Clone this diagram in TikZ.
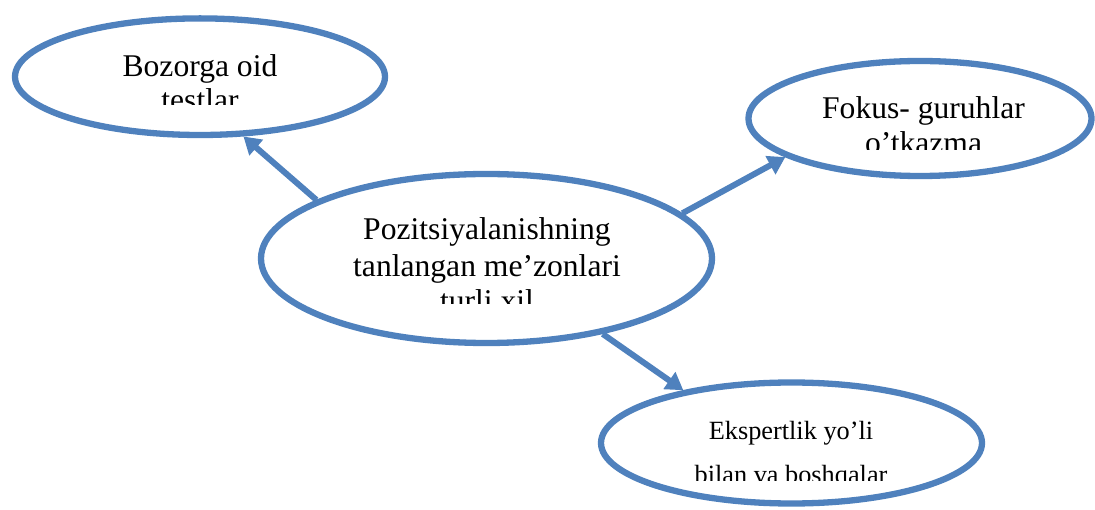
\documentclass[tikz,border=0pt]{standalone}
\usepackage{fontspec}
\setmainfont{Liberation Serif}
\usetikzlibrary{shapes.geometric,arrows.meta}
\definecolor{ovalblue}{HTML}{4F81BD}
\begin{document}
\begin{tikzpicture}[x=1pt,y=1pt,
  oval/.style={ellipse, draw=ovalblue, line width=6.3pt, inner sep=0pt, fill=white},
  link/.style={draw=ovalblue, line width=6pt, -{Triangle[length=17pt,width=20pt]}},
  bigtext/.style={anchor=base, inner sep=0pt, font=\fontsize{31.6}{36}\selectfont},
  smalltext/.style={anchor=base, inner sep=0pt, font=\fontsize{26.3}{30}\selectfont}]
\useasboundingbox (0,0) rectangle (1095,509);

% the four ovals
\node[oval, minimum width=370pt, minimum height=116.6pt] (e1) at (200,432.3) {};
\node[oval, minimum width=343pt, minimum height=115pt]   (e2) at (920,390.5) {};
\node[oval, minimum width=451pt, minimum height=169pt]   (e3) at (486.5,250.5) {};
\node[oval, minimum width=381pt, minimum height=121pt]   (e4) at (791.5,66) {};

% arrows from the central oval
\draw[link] (e3.161) -- (e1.306);
\draw[link] (e3.13) -- (e2.196);
\draw[link] (e3.327.5) -- (e4.154);

% labels, each cut off at the bottom of its text frame
\begin{scope}
  \clip (0,404) rectangle (400,509);
  \node[bigtext] (t1a) at (200,432) {Bozorga oid};
  \node[bigtext] (t1b) at (200,398) {testlar};
\end{scope}
\begin{scope}
  \clip (740,359) rectangle (1095,509);
  \node[bigtext] (t2a) at (923.5,390) {Fokus- guruhlar};
  \node[bigtext] (t2b) at (923.5,355.5) {o’tkazma};
\end{scope}
\begin{scope}
  \clip (260,205) rectangle (715,340);
  \node[bigtext] (t3a) at (487,269) {Pozitsiyalanishning};
  \node[bigtext] (t3b) at (487,232.3) {tanlangan me’zonlari};
  \node[bigtext] (t3c) at (487,197) {turli xil};
\end{scope}
\begin{scope}
  \clip (600,29) rectangle (985,130);
  \node[smalltext] (t4a) at (791,70) {Ekspertlik yo’li};
  \node[smalltext] (t4b) at (791,26) {bilan va boshqalar};
\end{scope}
\end{tikzpicture}
\end{document}
